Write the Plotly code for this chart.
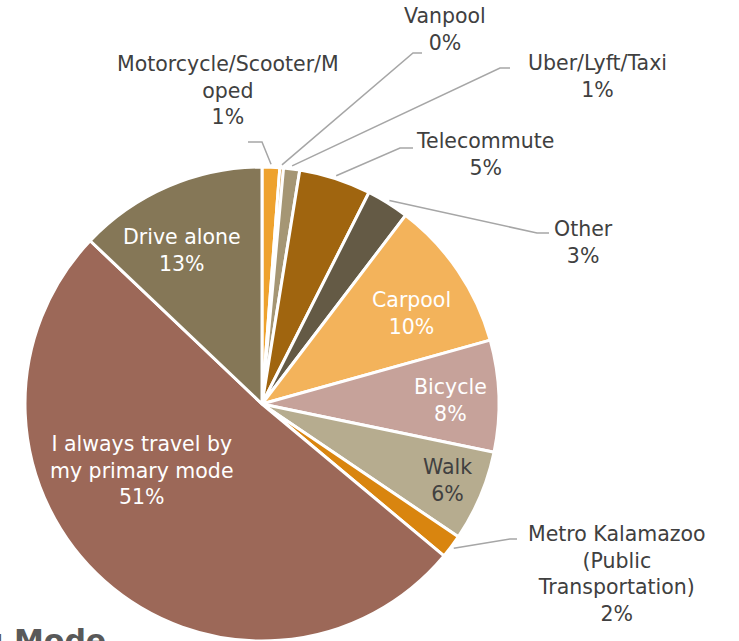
import math
import plotly.graph_objects as go

# ---------------- data ----------------
categories = ["Motorcycle/Scooter/Moped", "Vanpool", "Uber/Lyft/Taxi", "Telecommute", "Other",
              "Carpool", "Bicycle", "Walk", "Metro Kalamazoo (Public Transportation)",
              "I always travel by my primary mode", "Drive alone"]
shares = [1.2, 0.25, 1.1, 4.9, 2.9, 10.3, 7.6, 6.2, 1.6, 51.0, 12.9]
label_text = ["Motorcycle/Scooter/M<br>oped", "Vanpool", "Uber/Lyft/Taxi", "Telecommute", "Other",
              "Carpool", "Bicycle", "Walk", "Metro Kalamazoo<br>(Public<br>Transportation)",
              "I always travel by<br>my primary mode", "Drive alone"]
colors = ["#EEA22E", "#C98A2E", "#A59674", "#A0650F", "#645A45",
          "#F3B35B", "#C6A29A", "#B6AC8F", "#D9850F", "#9C6858", "#857757"]

# ---------------- layout geometry (pixels) ----------------
W, H = 739, 641
CX, CY, R = 262, 404, 237
FONT = "DejaVu Sans"
FS = 20.5
DARK = "#404040"
LINE = "#A6A6A6"

# label block centres (px) and text colour
label_pos = {
    0: (228, 91, DARK), 1: (445, 30, DARK), 2: (597, 76, DARK), 3: (485, 155, DARK),
    4: (583, 242, DARK), 5: (411, 313, "white"), 6: (451, 400, "white"), 7: (447, 480, DARK),
    8: (617, 574, DARK), 9: (142, 470, "white"), 10: (182, 251, "white"),
}
# leader elbows and ends (px) for outside labels
leaders = {
    0: ((262, 142), (248, 142)),
    1: ((413, 53), (422, 53)),
    2: ((500, 68), (510, 68)),
    3: ((400, 148), (413, 148)),
    4: ((537, 233), (549, 233)),
    8: ((510, 539), (517, 539)),
}


def px(x):
    return x / W


def py(y):
    return 1 - y / H


total = sum(shares)
pct = [round(v / total * 100) for v in shares]

fig = go.Figure(go.Pie(
    labels=categories,
    values=shares,
    sort=False,
    direction="clockwise",
    rotation=0,
    textinfo="none",
    hoverinfo="label+percent",
    marker=dict(colors=colors, line=dict(color="white", width=3)),
    domain=dict(x=[(CX - R) / W, (CX + R) / W], y=[(H - CY - R) / H, (H - CY + R) / H]),
    showlegend=False,
))

annotations = []
for i, (x, y, c) in label_pos.items():
    annotations.append(dict(
        x=px(x), y=py(y), xref="paper", yref="paper", xanchor="center", yanchor="middle",
        text=f"{label_text[i]}<br>{pct[i]}%", showarrow=False, align="center",
        font=dict(family=FONT, size=FS, color=c),
    ))

# partially visible slide title at the bottom
annotations.append(dict(
    x=px(108), y=py(621), xref="paper", yref="paper", xanchor="right", yanchor="top",
    text="<b>g Mode</b>", showarrow=False, font=dict(family=FONT, size=30, color="#595959"),
))

shapes = []
cum = 0.0
mids = []
for v in shares:
    mids.append((cum + v / 2) / total * 360)
    cum += v
for i, (elbow, end) in leaders.items():
    a = math.radians(mids[i])
    sx = CX + (R + 3) * math.sin(a)
    sy = CY - (R + 3) * math.cos(a)
    path = f"M {px(sx)} {py(sy)} L {px(elbow[0])} {py(elbow[1])} L {px(end[0])} {py(end[1])}"
    shapes.append(dict(type="path", xref="paper", yref="paper", path=path,
                       line=dict(color=LINE, width=1.5)))

fig.update_layout(
    width=W, height=H,
    margin=dict(l=0, r=0, t=0, b=0),
    paper_bgcolor="white", plot_bgcolor="white",
    annotations=annotations, shapes=shapes,
)

fig.write_html("out.html", config={"displayModeBar": False},
               post_script="document.body.style.margin='0px';document.body.style.overflow='hidden';")
